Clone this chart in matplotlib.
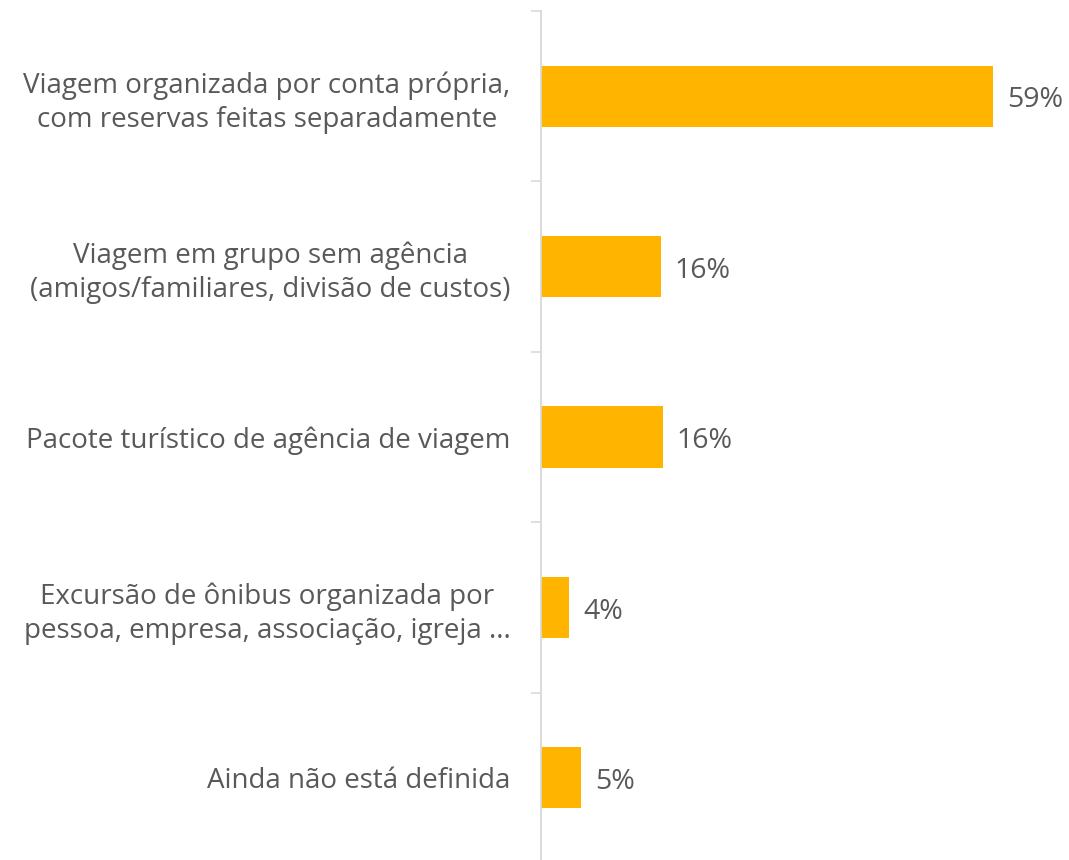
import matplotlib
matplotlib.use("Agg")
import matplotlib.pyplot as plt
import numpy as np

categories = [
    "Viagem organizada por conta própria,\ncom reservas feitas separadamente",
    "Viagem em grupo sem agência\n(amigos/familiares, divisão de custos)",
    "Pacote turístico de agência de viagem",
    "Excursão de ônibus organizada por\npessoa, empresa, associação, igreja ...",
    "Ainda não está definida",
]
values = [59.0, 15.6, 15.9, 3.7, 5.2]
value_labels = ["59%", "16%", "16%", "4%", "5%"]

plt.rcParams['font.family'] = ['Open Sans', 'DejaVu Sans']
TEXT = "#595959"
BAR = "#FFB500"
AXIS = "#D9D9D9"

fig = plt.figure(figsize=(10.69, 8.60), dpi=100)
ax = fig.add_axes([541/1069, -3/860, 528/1069, 852/860])

y = np.arange(len(categories))
ax.barh(y, values, height=0.36, color=BAR)
ax.set_xlim(0, 528/(452/59))
ax.set_ylim(len(categories) - 0.5, -0.5)

for yi, v, lab in zip(y, values, value_labels):
    ax.annotate(lab, (v, yi), xytext=(10, -3), textcoords="offset points",
                ha="left", va="center", fontsize=20.5, color=TEXT)

ax.set_yticks(y)
ax.set_yticklabels(categories, fontsize=20, color=TEXT, multialignment="center",
                   linespacing=1.27)
ax.tick_params(axis="y", which="major", length=0, pad=22)
ax.set_yticks(np.arange(-0.5, len(categories) + 0.5, 1), minor=True)
ax.tick_params(axis="y", which="minor", length=7.2, width=1.2, color=AXIS)
ax.set_xticks([])
for s in ["top", "right", "bottom"]:
    ax.spines[s].set_visible(False)
ax.spines["left"].set_color(AXIS)
ax.spines["left"].set_linewidth(1.3)

fig.savefig("out.png", dpi=100, facecolor="white")
